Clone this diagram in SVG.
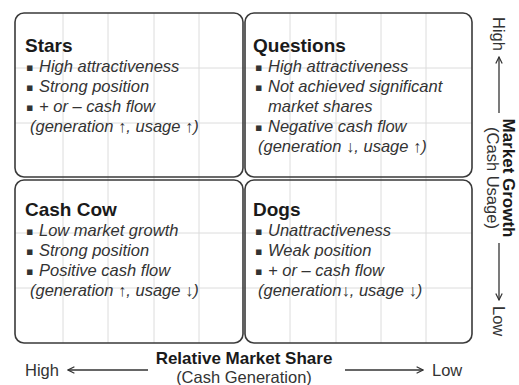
<svg xmlns="http://www.w3.org/2000/svg" width="519" height="385" viewBox="0 0 519 385">
<style>
.grid{stroke:#dcdcdc;stroke-width:1;fill:none}
.box{fill:none;stroke:#3a3a3a;stroke-width:1.6}
.title{font-family:"Liberation Sans",Arial,sans-serif;font-weight:bold;font-size:19px;fill:#1a1a1a}
.item{font-family:"Liberation Sans",Arial,sans-serif;font-style:italic;font-size:16.5px;fill:#333}
.bul{font-family:"DejaVu Sans",sans-serif;font-style:normal;font-size:11px;fill:#333}
.axb{font-family:"Liberation Sans",Arial,sans-serif;font-weight:bold;font-size:17px;fill:#1a1a1a}
.ax{font-family:"Liberation Sans",Arial,sans-serif;font-size:16.5px;fill:#333}
.arr{stroke:#333;stroke-width:1.3;fill:none}
</style>
<defs>
<marker id="ah" viewBox="0 0 10 10" refX="9" refY="5" markerWidth="8" markerHeight="8" orient="auto" markerUnits="userSpaceOnUse">
<path d="M1,1 L9,5 L1,9" fill="none" stroke="#333" stroke-width="1.5"/>
</marker>
</defs>
<rect x="0" y="0" width="519" height="385" fill="#ffffff"/>
<g id="grid" class="grid">
<path d="M63,13V343M108,13V343M154,13V343M199,13V343M290,13V343M336,13V343M381,13V343M426,13V343"/>
<path d="M15,68H472M15,123H472M15,233H472M15,288H472"/>
</g>
<g id="stars">
<rect class="box" x="15" y="13" width="228" height="164" rx="9"/>
<text class="title" x="25" y="52">Stars</text>
<text class="item"><tspan class="bul" x="26" y="71">▪</tspan><tspan x="39" y="72">High attractiveness</tspan></text>
<text class="item"><tspan class="bul" x="26" y="91">▪</tspan><tspan x="39" y="92">Strong position</tspan></text>
<text class="item"><tspan class="bul" x="26" y="111">▪</tspan><tspan x="39" y="112">+ or – cash flow</tspan></text>
<text class="item" x="30" y="132">(generation ↑, usage ↑)</text>
</g>
<g id="questions">
<rect class="box" x="245" y="13" width="227" height="164" rx="9"/>
<text class="title" x="253" y="52">Questions</text>
<text class="item"><tspan class="bul" x="255" y="71">▪</tspan><tspan x="268" y="72">High attractiveness</tspan></text>
<text class="item"><tspan class="bul" x="255" y="91">▪</tspan><tspan x="268" y="92">Not achieved significant</tspan></text>
<text class="item" x="268" y="112">market shares</text>
<text class="item"><tspan class="bul" x="255" y="131">▪</tspan><tspan x="268" y="132">Negative cash flow</tspan></text>
<text class="item" x="258" y="152">(generation ↓, usage ↑)</text>
</g>
<g id="cashcow">
<rect class="box" x="15" y="180" width="228" height="163" rx="9"/>
<text class="title" x="25" y="216">Cash Cow</text>
<text class="item"><tspan class="bul" x="26" y="235">▪</tspan><tspan x="39" y="236">Low market growth</tspan></text>
<text class="item"><tspan class="bul" x="26" y="255">▪</tspan><tspan x="39" y="256">Strong position</tspan></text>
<text class="item"><tspan class="bul" x="26" y="275">▪</tspan><tspan x="39" y="276">Positive cash flow</tspan></text>
<text class="item" x="30" y="296">(generation ↑, usage ↓)</text>
</g>
<g id="dogs">
<rect class="box" x="245" y="180" width="227" height="163" rx="9"/>
<text class="title" x="253" y="216">Dogs</text>
<text class="item"><tspan class="bul" x="255" y="235">▪</tspan><tspan x="268" y="236">Unattractiveness</tspan></text>
<text class="item"><tspan class="bul" x="255" y="255">▪</tspan><tspan x="268" y="256">Weak position</tspan></text>
<text class="item"><tspan class="bul" x="255" y="275">▪</tspan><tspan x="268" y="276">+ or – cash flow</tspan></text>
<text class="item" x="258" y="296">(generation↓, usage ↓)</text>
</g>
<g id="x-axis">
<text class="ax" x="25" y="376">High</text>
<text class="axb" x="244" y="363.5" text-anchor="middle">Relative Market Share</text>
<text class="ax" x="244" y="382.5" text-anchor="middle">(Cash Generation)</text>
<text class="ax" x="432" y="376">Low</text>
</g>
<g id="y-axis">
<text class="ax" transform="translate(493,17) rotate(90)">High</text>
<text class="axb" transform="translate(503,178) rotate(90)" text-anchor="middle">Market Growth</text>
<text class="ax" transform="translate(487,178) rotate(90)" text-anchor="middle">(Cash Usage)</text>
<text class="ax" transform="translate(493,306) rotate(90)">Low</text>
</g>
<g id="connectors">
<line class="arr" x1="148" y1="370" x2="68" y2="370" marker-end="url(#ah)"/>
<line class="arr" x1="345" y1="370" x2="423" y2="370" marker-end="url(#ah)"/>
<line class="arr" x1="499" y1="113" x2="499" y2="57" marker-end="url(#ah)"/>
<line class="arr" x1="499" y1="243" x2="499" y2="300" marker-end="url(#ah)"/>
</g>
</svg>
